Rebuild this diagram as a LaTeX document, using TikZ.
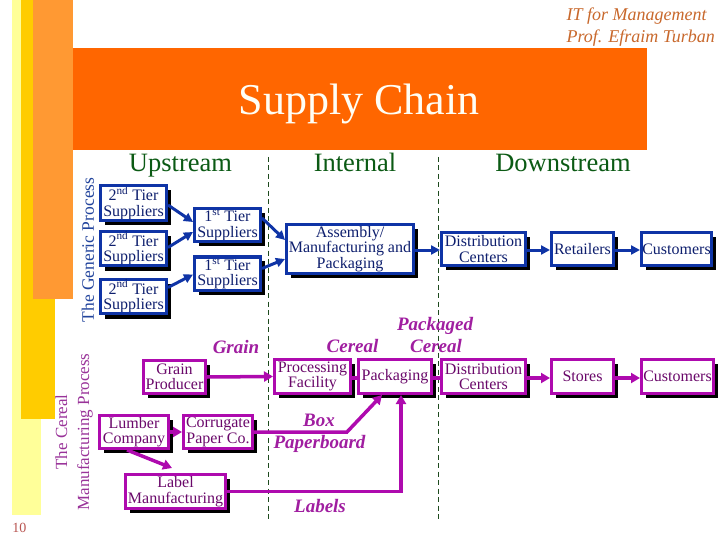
\documentclass[tikz,border=0pt]{standalone}
\usepackage{fontspec}
\setmainfont{Liberation Serif}
\usetikzlibrary{arrows.meta,shadows,calc}
\definecolor{ltyel}{HTML}{FFFF99}
\definecolor{gold}{HTML}{FFCC00}
\definecolor{ltorange}{HTML}{FF9933}
\definecolor{banner}{HTML}{FF6600}
\definecolor{brown}{HTML}{C8682C}
\definecolor{hdr}{HTML}{0B5A14}
\definecolor{dashc}{HTML}{1E4A1E}
\definecolor{bluebox}{HTML}{0F34A6}
\definecolor{bluetext}{HTML}{0E1F6E}
\definecolor{purp}{HTML}{AE0AAE}
\definecolor{purptext}{HTML}{6A086A}
\definecolor{purplabel}{HTML}{A01EA0}
\definecolor{cerealt}{HTML}{993399}
\definecolor{generict}{HTML}{22449C}
\definecolor{pagenum}{HTML}{B85450}
\tikzset{
  boxbase/.style={line width=2.4pt, fill=white, inner sep=0pt, align=center,
    font=\fontsize{16}{15.5}\selectfont,
    drop shadow={shadow xshift=4.5pt, shadow yshift=-4.5pt, opacity=1, fill=black}},
  bb/.style={boxbase, draw=bluebox, text=bluetext},
  pb/.style={boxbase, draw=purp, text=purptext},
  barr/.style={draw=bluebox, line width=3pt, -{Triangle[length=9pt,width=9pt]}},
  parr/.style={draw=purp, line width=3.5pt, -{Triangle[length=9pt,width=10pt]}},
  pline/.style={draw=purp, line width=3.5pt},
  plabel/.style={text=purplabel, font=\fontsize{19}{20}\selectfont\bfseries\itshape},
  hdrtext/.style={text=hdr, font=\fontsize{26.5}{28}\selectfont, anchor=base},
  dline/.style={draw=dashc, line width=0.8pt, dash pattern=on 5pt off 3.5pt},
}
\begin{document}
\begin{tikzpicture}[x=1pt,y=-1pt]
\useasboundingbox (0,0) rectangle (720,540);
% side bars and banner
\fill[ltyel] (12,0) rectangle (41,515);
\fill[gold] (21,0) rectangle (55,419);
\fill[ltorange] (33,0) rectangle (73,299);
\fill[banner] (73,48) rectangle (647,150);
\node[text=white!96!yellow, font=\fontsize{44}{46}\selectfont, anchor=base] (title) at (359,115) {Supply Chain};
\node[text=brown, font=\fontsize{18}{20}\selectfont\itshape, anchor=base west] (it) at (563,21) {IT for Management};
\node[text=brown, font=\fontsize{18}{20}\selectfont\itshape, anchor=base west] (prof) at (563,43) {Prof. Efraim Turban};
\node[text=pagenum, font=\fontsize{14}{16}\selectfont] (pg) at (19.5,528) {10};
% headers
\node[hdrtext] (up) at (180.5,172) {Upstream};
\node[hdrtext] (in) at (355,172) {Internal};
\node[hdrtext] (down) at (563,172) {Downstream};
\draw[dline] (268,157) -- (268,522);
\draw[dline] (438,157) -- (438,522);
% side titles
\node[text=generict, font=\fontsize{17.5}{19}\selectfont, rotate=90] (gen) at (88,250) {The Generic Process};
\node[text=cerealt, font=\fontsize{17}{22}\selectfont, rotate=90, align=center] (cer) at (74,432) {The Cereal\\Manufacturing Process};
% generic process boxes
\node[bb, minimum width=66.6pt, minimum height=35.6pt] (t2a) at (133.5,203) {2\textsuperscript{nd} Tier\\Suppliers};
\node[bb, minimum width=66.6pt, minimum height=35pt] (t2b) at (133.5,248.5) {2\textsuperscript{nd} Tier\\Suppliers};
\node[bb, minimum width=66.6pt, minimum height=35pt] (t2c) at (133.5,296.5) {2\textsuperscript{nd} Tier\\Suppliers};
\node[bb, minimum width=66.6pt, minimum height=33.6pt] (t1a) at (227.5,225) {1\textsuperscript{st} Tier\\Suppliers};
\node[bb, minimum width=66.6pt, minimum height=34pt] (t1b) at (227.5,273.5) {1\textsuperscript{st} Tier\\Suppliers};
\node[bb, minimum width=127.6pt, minimum height=49.6pt] (asm) at (350,249) {Assembly/\\Manufacturing and\\Packaging};
\node[bb, minimum width=84.6pt, minimum height=33.6pt] (dc1) at (483.5,249) {Distribution\\Centers};
\node[bb, minimum width=62.6pt, minimum height=33.6pt] (ret) at (582.5,249) {Retailers};
\node[bb, minimum width=70.6pt, minimum height=33.6pt] (cus1) at (676.5,249) {Customers};
% cereal process boxes
\node[pb, minimum width=62.6pt, minimum height=33.6pt] (gp) at (174.5,377) {Grain\\Producer};
\node[pb, minimum width=69.6pt, minimum height=33.6pt] (lum) at (134,432) {Lumber\\Company};
\node[pb, minimum width=69.6pt, minimum height=33.6pt] (cor) at (218,432) {Corrugate\\Paper Co.};
\node[pb, minimum width=100.6pt, minimum height=34.6pt] (lab) at (175.5,491.5) {Label\\Manufacturing};
\node[pb, minimum width=76.6pt, minimum height=34.6pt] (pf) at (312.5,376.5) {Processing\\Facility};
\node[pb, minimum width=73.6pt, minimum height=34.6pt] (pk) at (395,376.5) {Packaging};
\node[pb, minimum width=84.6pt, minimum height=34.6pt] (dc2) at (483.5,376.5) {Distribution\\Centers};
\node[pb, minimum width=62.6pt, minimum height=34.6pt] (st) at (582.5,376.5) {Stores};
\node[pb, minimum width=72.6pt, minimum height=34.6pt] (cus2) at (677.5,376.5) {Customers};
% inner border lines
\foreach \n in {t2a,t2b,t2c,t1a,t1b,asm,dc1,ret,cus1}
  \draw[bluebox, line width=0.8pt] ($(\n.south west)+(2.8pt,2.8pt)$) rectangle ($(\n.north east)+(-2.8pt,-2.8pt)$);
\foreach \n in {gp,lum,cor,lab,pf,pk,dc2,st,cus2}
  \draw[purp, line width=0.8pt] ($(\n.south west)+(2.8pt,2.8pt)$) rectangle ($(\n.north east)+(-2.8pt,-2.8pt)$);
% generic arrows
\draw[barr] ([yshift=-2pt]t2a.east) -- ([yshift=3pt]t1a.west);
\draw[barr] ([yshift=1pt]t2b.east) -- ([yshift=-7pt]t1a.west);
\draw[barr] ([yshift=9pt]t2c.east) -- ([yshift=-1pt]t1b.west);
\draw[barr] ([yshift=7pt]t1a.east) -- ([yshift=9pt]asm.west);
\draw[barr] ([yshift=5pt]t1b.east) -- ([yshift=-10pt]asm.west);
\draw[barr] ([yshift=-1pt]asm.east) -- ([yshift=-1pt]dc1.west);
\draw[barr] ([yshift=-1pt]dc1.east) -- ([yshift=-1pt]ret.west);
\draw[barr] ([yshift=-1pt]ret.east) -- ([yshift=-1pt]cus1.west);
% cereal arrows
\coordinate (boxbend) at (347,432);
\draw[parr] (gp.east) -- (pf.west);
\draw[parr] (lum.east) -- (cor.west);
\draw[parr] ([xshift=-7pt]lum.south) -- ([xshift=-3.5pt,yshift=5pt]lab.north);
\draw[parr] (cor.east) -- (boxbend) -- ([xshift=-13pt]pk.south);
\draw[parr] (lab.east) -| ([xshift=6pt]pk.south);
\draw[pline] ([yshift=-1.5pt]pf.east) -- ([yshift=-1.5pt]pk.west);
\draw[pline] ([yshift=-1.5pt]pk.east) -- ([yshift=-1.5pt]dc2.west);
\draw[parr] ([yshift=-1.5pt]dc2.east) -- ([yshift=-1.5pt]st.west);
\draw[parr] ([yshift=-1.5pt]st.east) -- ([yshift=-1.5pt]cus2.west);
% flow labels
\node[plabel] (lgrain) at (236,347) {Grain};
\node[plabel] (lcer) at (352.5,346) {Cereal};
\node[plabel] (lpack) at (435,326) {Packaged};
\node[plabel] (lcer2) at (436,346) {Cereal};
\node[plabel] (lbox) at (319,420) {Box};
\node[plabel] (lpaper) at (319.5,444) {Paperboard};
\node[plabel] (llab) at (320,506) {Labels};
\end{tikzpicture}
\end{document}
